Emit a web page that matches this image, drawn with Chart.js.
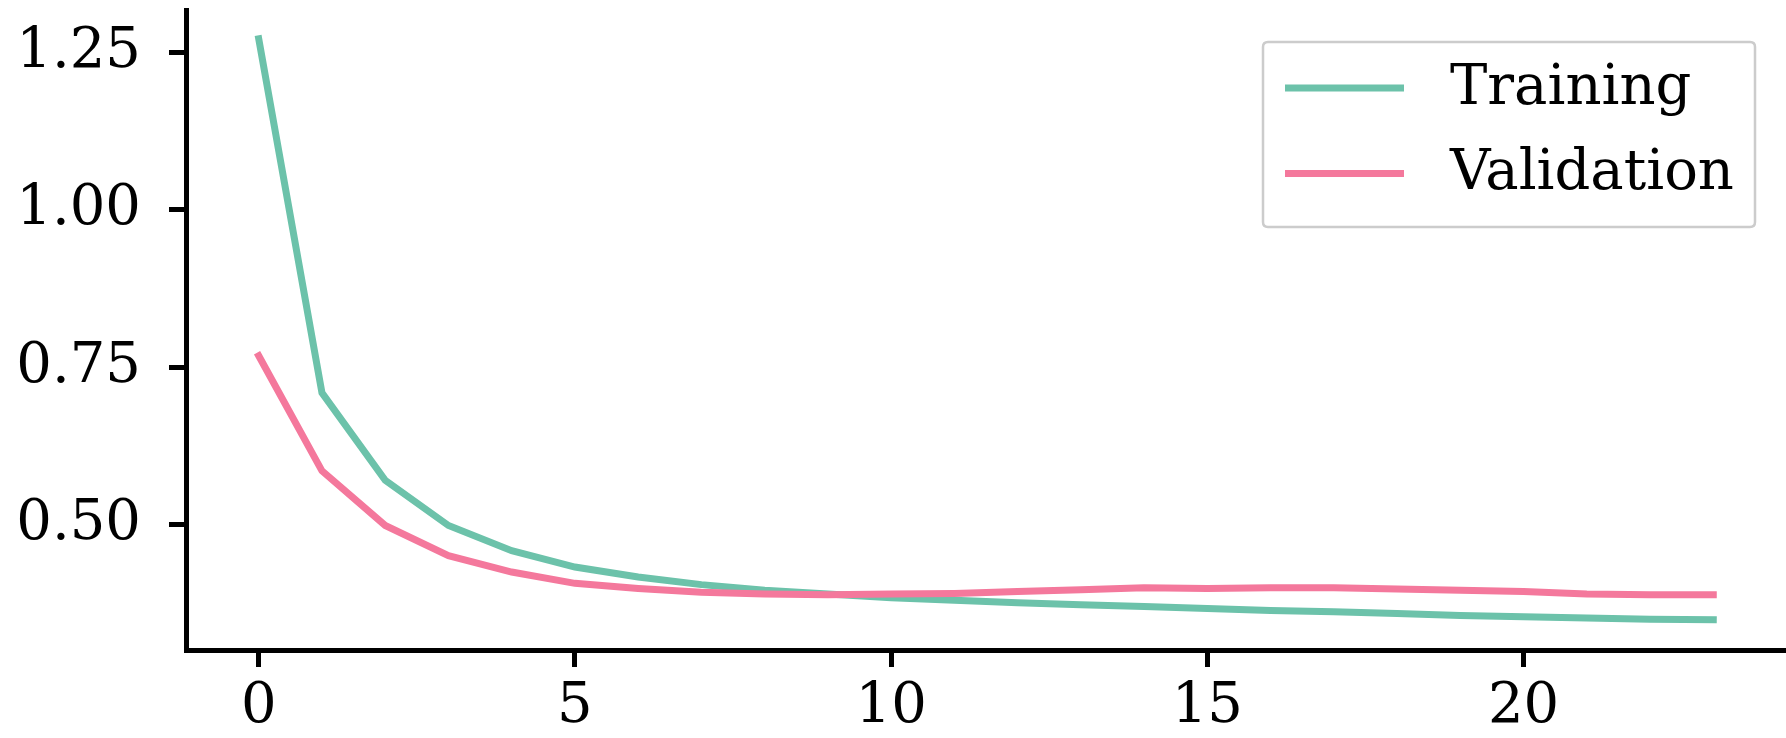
<!DOCTYPE html>
<html>
<head>
<meta charset="utf-8">
<script src="https://cdn.jsdelivr.net/npm/chart.js@4/dist/chart.umd.min.js"></script>
<style>
  html, body { margin: 0; padding: 0; background: #ffffff; }
  #wrap { width: 1786px; height: 738px; position: relative; }
</style>
</head>
<body>
<div id="wrap"><canvas id="c" width="1786" height="738"></canvas></div>
<script>
const epochs = [0, 1, 2, 3, 4, 5, 6, 7, 8, 9, 10, 11, 12, 13, 14, 15, 16, 17, 18, 19, 20, 21, 22, 23];
const training = [1.272, 0.709, 0.570, 0.498, 0.458, 0.432, 0.416, 0.404, 0.395, 0.389, 0.383, 0.379, 0.375, 0.372, 0.369, 0.366, 0.363, 0.361, 0.358, 0.355, 0.353, 0.351, 0.349, 0.348];
const validation = [0.768, 0.585, 0.498, 0.450, 0.424, 0.406, 0.398, 0.392, 0.389, 0.388, 0.389, 0.390, 0.393, 0.396, 0.399, 0.398, 0.399, 0.399, 0.397, 0.395, 0.393, 0.389, 0.388, 0.388];
const xTicks = [0, 5, 10, 15, 20];
const yTicks = [0.50, 0.75, 1.00, 1.25];
const seriesNames = ['Training', 'Validation'];
const seriesColors = ['#6cc2aa', '#f4789c'];

const FONT = 'DejaVu Serif';
const FS = 56;

const toPts = arr => epochs.map((e, i) => ({ x: e, y: arr[i] }));

const boxLegend = {
  id: 'boxLegend',
  afterDraw(chart) {
    const ctx = chart.ctx;
    const ca = chart.chartArea;
    const right = ca.right - 31;
    const top = ca.top + 32;
    const w = 492, h = 185;
    const left = right - w;
    ctx.save();
    ctx.fillStyle = 'rgba(255,255,255,0.8)';
    ctx.strokeStyle = '#cccccc';
    ctx.lineWidth = 2.5;
    const r = 5;
    ctx.beginPath();
    ctx.moveTo(left + r, top);
    ctx.lineTo(right - r, top);
    ctx.quadraticCurveTo(right, top, right, top + r);
    ctx.lineTo(right, top + h - r);
    ctx.quadraticCurveTo(right, top + h, right - r, top + h);
    ctx.lineTo(left + r, top + h);
    ctx.quadraticCurveTo(left, top + h, left, top + h - r);
    ctx.lineTo(left, top + r);
    ctx.quadraticCurveTo(left, top, left + r, top);
    ctx.closePath();
    ctx.fill();
    ctx.stroke();
    chart.data.datasets.forEach((ds, i) => {
      const yc = top + 46 + i * 85.5;
      ctx.strokeStyle = ds.borderColor;
      ctx.lineWidth = 7;
      ctx.lineCap = 'butt';
      ctx.beginPath();
      ctx.moveTo(left + 22, yc);
      ctx.lineTo(left + 141, yc);
      ctx.stroke();
      ctx.fillStyle = '#000000';
      ctx.font = FS + 'px "' + FONT + '"';
      ctx.textBaseline = 'middle';
      ctx.textAlign = 'left';
      ctx.fillText(ds.label, left + 187, yc + 1);
    });
    ctx.restore();
  }
};

new Chart(document.getElementById('c'), {
  type: 'line',
  data: {
    datasets: [
      { label: seriesNames[0], data: toPts(training), borderColor: seriesColors[0], backgroundColor: seriesColors[0], borderWidth: 7, pointRadius: 0, tension: 0, order: 1, borderCapStyle: 'square' },
      { label: seriesNames[1], data: toPts(validation), borderColor: seriesColors[1], backgroundColor: seriesColors[1], borderWidth: 7, pointRadius: 0, tension: 0, order: 0, borderCapStyle: 'square' }
    ]
  },
  plugins: [boxLegend],
  options: {
    responsive: false,
    animation: false,
    events: [],
    layout: { padding: { top: 10, right: 0, left: 0, bottom: 0 } },
    plugins: { legend: { display: false }, tooltip: { enabled: false } },
    scales: {
      x: {
        type: 'linear',
        min: -1.15,
        max: 24.15,
        afterBuildTicks: s => { s.ticks = xTicks.map(v => ({ value: v })); },
        afterFit: s => { s.height = 88; s.paddingLeft = 0; s.paddingRight = 0; },
        ticks: { color: '#000', font: { family: FONT, size: FS }, padding: 7, maxRotation: 0, autoSkip: false, callback: v => String(v) },
        grid: { display: true, drawOnChartArea: false, drawTicks: true, tickLength: 17, tickWidth: 5, tickColor: '#000' },
        border: { display: true, color: '#000', width: 5 }
      },
      y: {
        type: 'linear',
        min: 0.300,
        max: 1.318,
        afterBuildTicks: s => { s.ticks = yTicks.map(v => ({ value: v })); },
        afterFit: s => { s.width = 186; s.paddingTop = 0; s.paddingBottom = 0; },
        ticks: { color: '#000', font: { family: FONT, size: FS }, padding: 28, autoSkip: false, callback: v => Number(v).toFixed(2) },
        grid: { display: true, drawOnChartArea: false, drawTicks: true, tickLength: 17, tickWidth: 5, tickColor: '#000' },
        border: { display: true, color: '#000', width: 5 }
      }
    }
  }
});
</script>
</body>
</html>
